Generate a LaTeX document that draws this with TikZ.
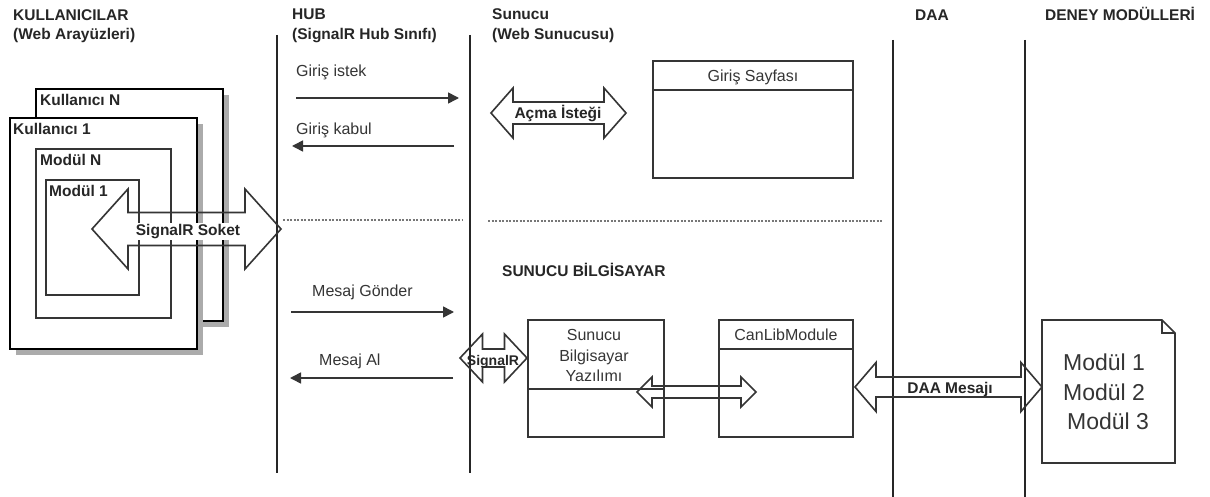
\documentclass[tikz,border=0pt]{standalone}
\usepackage{fontspec}
\setmainfont{Liberation Sans}
\usetikzlibrary{arrows.meta,shadows}
\definecolor{ink}{HTML}{262626}
\definecolor{txt}{HTML}{353535}
\definecolor{shade}{HTML}{ABABAB}
\definecolor{dotc}{HTML}{777777}
\newcommand\dblarr[6]{%
  \draw[blockarrow] (#1,#3) -- ({#1+#6},{#3-#5}) -- ({#1+#6},{#3-#4}) -- ({#2-#6},{#3-#4})
   -- ({#2-#6},{#3-#5}) -- (#2,#3) -- ({#2-#6},{#3+#5}) -- ({#2-#6},{#3+#4})
   -- ({#1+#6},{#3+#4}) -- ({#1+#6},{#3+#5}) -- cycle;}
\tikzset{
  hdr/.style={font=\fontsize{15.5}{18}\selectfont\bfseries, text=ink, anchor=base west, inner sep=0pt},
  lbl/.style={font=\fontsize{16}{19}\selectfont, text=txt, anchor=base west, inner sep=0pt},
  boxlbl/.style={font=\fontsize{15.5}{18}\selectfont\bfseries, text=ink, anchor=base west, inner sep=0pt},
  arrlbl/.style={font=\fontsize{15.5}{18}\selectfont\bfseries, text=ink, anchor=base, inner sep=0pt},
  lifeline/.style={draw=ink, line width=2pt},
  sepline/.style={draw=dotc, line width=2.6pt, dash pattern=on 2pt off 1.5pt},
  msg/.style={draw=txt, line width=1.6pt, -{Triangle[length=11pt,width=11pt]}},
  kbox/.style={draw=black, line width=2.2pt, fill=white, anchor=north west, outer sep=0pt, inner sep=0pt,
     drop shadow={shadow xshift=6pt, shadow yshift=-6pt, fill=shade, opacity=1}},
  mbox/.style={draw=txt, line width=1.7pt, anchor=north west, outer sep=0pt, inner sep=0pt},
  cbox/.style={draw=txt, line width=2pt, fill=white, anchor=north west, outer sep=0pt, inner sep=0pt},
  blockarrow/.style={draw=txt, line width=1.6pt, line join=miter},
}
\begin{document}
\begin{tikzpicture}[x=1pt,y=-1pt]
\useasboundingbox[fill=white] (0,0) rectangle (1210,497);

% headers
\node[hdr] (h1a) at (13,20.5) {KULLANICILAR};
\node[hdr] (h1b) at (13,40) {(Web Arayüzleri)};
\node[hdr] (h2a) at (292,20) {HUB};
\node[hdr] (h2b) at (292,40) {(SignalR Hub Sınıfı)};
\node[hdr] (h3a) at (492,20) {Sunucu};
\node[hdr] (h3b) at (492,40) {(Web Sunucusu)};
\node[hdr] (h4) at (915,20.5) {DAA};
\node[hdr] (h5) at (1045,20.5) {DENEY MODÜLLERİ};
\node[hdr] (h6) at (502,276) {SUNUCU BİLGİSAYAR};

% lifelines
\coordinate (hubT) at (277,35);  \coordinate (hubB) at (277,473);
\coordinate (srvT) at (470,35);  \coordinate (srvB) at (470,473);
\coordinate (daaT) at (893,40);  \coordinate (daaB) at (893,497);
\coordinate (modT) at (1025,40); \coordinate (modB) at (1025,497);
\draw[lifeline] (hubT) -- (hubB);
\draw[lifeline] (srvT) -- (srvB);
\draw[lifeline] (daaT) -- (daaB);
\draw[lifeline] (modT) -- (modB);

% separators
\coordinate (s1a) at (283,220); \coordinate (s1b) at (463,220);
\coordinate (s2a) at (488,221); \coordinate (s2b) at (883,221);
\draw[sepline] (s1a) -- (s1b);
\draw[sepline] (s2a) -- (s2b);

% user stack
\node[kbox, minimum width=187pt, minimum height=232pt] (kN) at (36,89) {};
\node[kbox, minimum width=187pt, minimum height=231pt] (k1) at (10,118) {};
\node[mbox, minimum width=135pt, minimum height=169pt] (mN) at (36,149) {};
\node[mbox, minimum width=93pt, minimum height=115pt] (m1) at (46,180) {};
\node[boxlbl] (kNl) at (40,106) {Kullanıcı N};
\node[boxlbl] (k1l) at (13,135) {Kullanıcı 1};
\node[boxlbl] (mNl) at (40,165.5) {Modül N};
\node[boxlbl] (m1l) at (49,196.5) {Modül 1};

% SignalR Soket arrow
\dblarr{92}{281}{229}{16.5}{40}{36}
\node[arrlbl, fill=white, inner sep=1pt] (sock) at (188,235.5) {SignalR Soket};

% messages
\coordinate (a1s) at (296,98);  \coordinate (a1e) at (459,98);
\coordinate (a2s) at (454,146); \coordinate (a2e) at (292,146);
\coordinate (a3s) at (291,312); \coordinate (a3e) at (454,312);
\coordinate (a4s) at (453,378); \coordinate (a4e) at (290,378);
\draw[msg] (a1s) -- (a1e);
\draw[msg] (a2s) -- (a2e);
\draw[msg] (a3s) -- (a3e);
\draw[msg] (a4s) -- (a4e);
\node[lbl] (t1) at (296,77) {Giriş istek};
\node[lbl] (t2) at (296,135) {Giriş kabul};
\node[lbl] (t3) at (312,296) {Mesaj Gönder};
\node[lbl] (t4) at (319,365) {Mesaj Al};

% Açma İsteği
\dblarr{491}{626}{113}{11}{25}{22}
\node[arrlbl] (acma) at (558,119) {Açma İsteği};

% Giriş Sayfası
\node[cbox, minimum width=200pt, minimum height=117pt] (gs) at (653,61) {};
\draw[draw=txt, line width=2pt] (gs.west |- 0,90) -- (gs.east |- 0,90);
\node[lbl, anchor=base] (gst) at (753,81.5) {Giriş Sayfası};

% Sunucu Bilgisayar Yazılımı
\node[cbox, minimum width=136pt, minimum height=117pt] (sby) at (528,320) {};
\draw[draw=txt, line width=2pt] (sby.west |- 0,389) -- (sby.east |- 0,389);
\node[lbl, anchor=base] (sb1) at (594,340) {Sunucu};
\node[lbl, anchor=base] (sb2) at (594,361.5) {Bilgisayar};
\node[lbl, anchor=base] (sb3) at (594,381.5) {Yazılımı};

% CanLibModule
\node[cbox, minimum width=134pt, minimum height=117pt] (clm) at (719,320) {};
\draw[draw=txt, line width=2pt] (clm.west |- 0,349) -- (clm.east |- 0,349);
\node[lbl, anchor=base] (clmt) at (786,340) {CanLibModule};

% SignalR small arrow
\dblarr{460}{527}{358}{9}{24}{22.5}
\node[arrlbl, font=\fontsize{14}{16}\selectfont\bfseries] (sig) at (493,365) {SignalR};

% inner arrow
\dblarr{637}{756}{392}{6}{15}{15}

% DAA Mesajı
\dblarr{855}{1042}{387}{10}{24.5}{21}
\node[arrlbl] (daam) at (950,393) {DAA Mesajı};

% document
\draw[draw=txt, line width=1.6pt, fill=white, line join=miter]
  (1042,320) -- (1162,320) -- (1175,333) -- (1175,463) -- (1042,463) -- cycle;
\draw[draw=txt, line width=1.4pt] (1162,320) -- (1162,333) -- (1175,333);
\node[lbl, anchor=base, font=\fontsize{23}{27}\selectfont] (md1) at (1104,370) {Modül 1};
\node[lbl, anchor=base, font=\fontsize{23}{27}\selectfont] (md2) at (1104,400) {Modül 2};
\node[lbl, anchor=base, font=\fontsize{23}{27}\selectfont] (md3) at (1108,429) {Modül 3};
\end{tikzpicture}
\end{document}
